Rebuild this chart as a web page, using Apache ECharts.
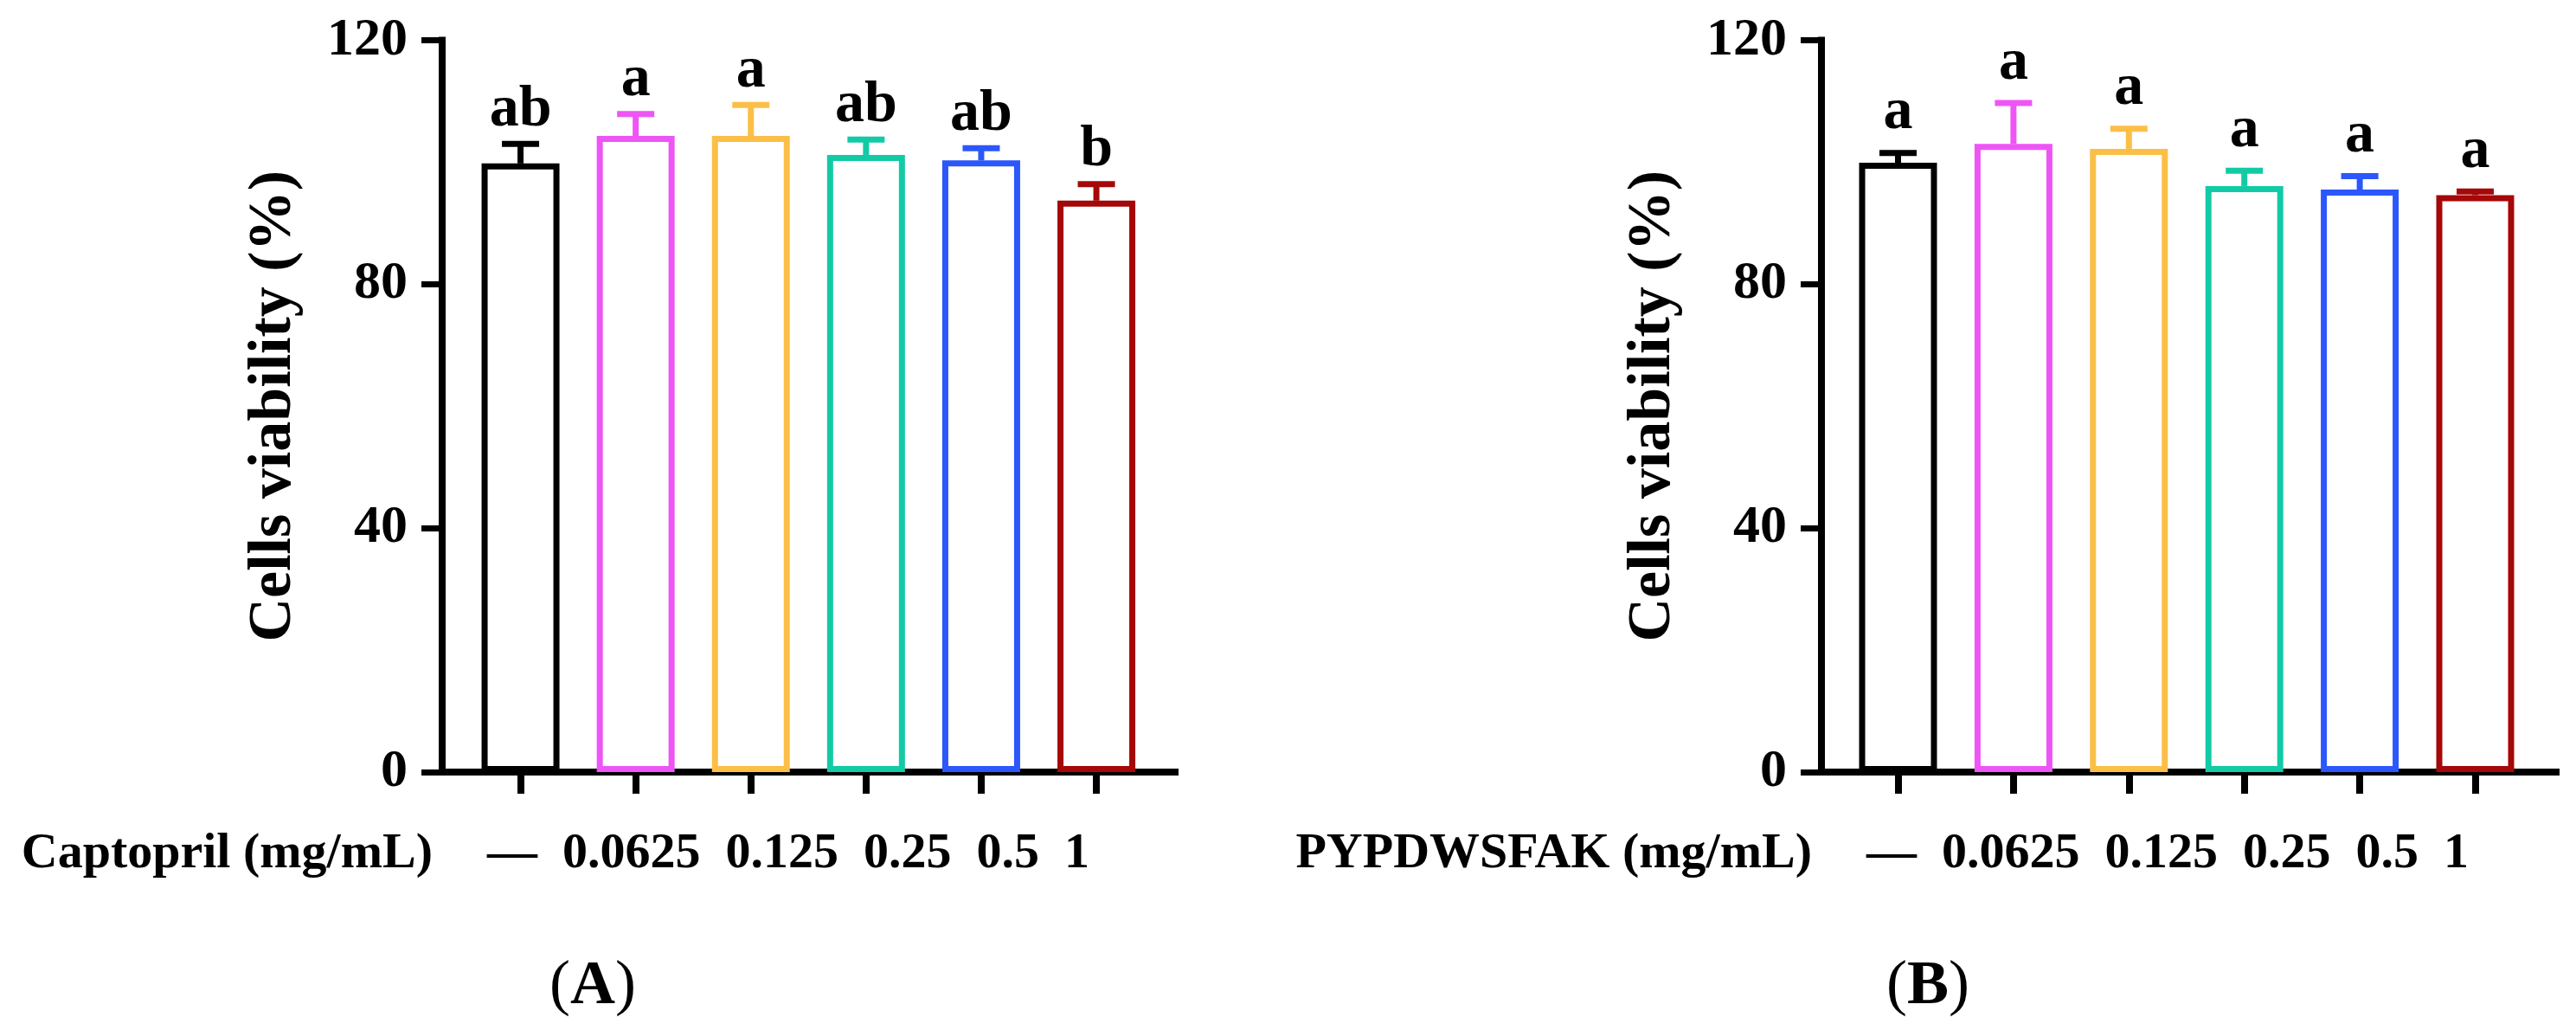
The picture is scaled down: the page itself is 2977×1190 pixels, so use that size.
<!DOCTYPE html>
<html>
<head>
<meta charset="utf-8">
<script src="https://cdn.jsdelivr.net/npm/echarts@6/dist/echarts.min.js"></script>
<style>
  html, body { margin: 0; padding: 0; background: #fff; }
  #chart { width: 2977px; height: 1190px; }
</style>
</head>
<body>
<div id="chart"></div>
<script>
// doses shown under both panels
const doses = ['—', '0.0625', '0.125', '0.25', '0.5', '1'];
const barColors = ['#000000', '#EE55F5', '#FBBF48', '#12CBA6', '#2B57FB', '#A50808'];
const yMax = 120;
const yStep = 40;

// panel A, captopril
const captoprilMean = [99.8, 104.3, 104.3, 101.2, 100.3, 93.7];
const captoprilSd = [3.2, 3.6, 5.1, 2.5, 2.0, 2.7];
const captoprilLetters = ['ab', 'a', 'a', 'ab', 'ab', 'b'];

// panel B, peptide
const peptideMean = [99.9, 103.0, 102.2, 96.1, 95.5, 94.6];
const peptideSd = [1.6, 6.7, 3.3, 2.5, 2.2, 0.6];
const peptideLetters = ['a', 'a', 'a', 'a', 'a', 'a'];

const serif = '"Liberation Serif", "Times New Roman", serif';

const panels = [
  { title: 'Captopril (mg/mL)', tag: 'A', mean: captoprilMean, sd: captoprilSd, letters: captoprilLetters,
    axisX: 511, axisW: 847, barX: 535, barW: 798.6, letterGap: 18, tagX: 685 },
  { title: 'PYPDWSFAK (mg/mL)', tag: 'B', mean: peptideMean, sd: peptideSd, letters: peptideLetters,
    axisX: 2105, axisW: 849, barX: 2126.8, barW: 800.4, letterGap: 25, tagX: 2228 }
];

const plotTop = 46.5;
const plotH = 845.5;

const grid = [];
const xAxis = [];
const yAxis = [];
const series = [];
const graphic = [];

panels.forEach(function (p, k) {
  const frame = 2 * k;
  const bars = 2 * k + 1;
  grid.push({ left: p.axisX, top: plotTop, width: p.axisW, height: plotH });
  grid.push({ left: p.barX, top: plotTop, width: p.barW, height: plotH });

  xAxis.push({
    gridIndex: frame, type: 'value', min: 0, max: 1,
    axisLine: { show: true, lineStyle: { color: '#000', width: 8, cap: 'square' } },
    axisTick: { show: false }, axisLabel: { show: false }, splitLine: { show: false }
  });
  yAxis.push({
    gridIndex: frame, type: 'value', min: 0, max: yMax, interval: yStep,
    axisLine: { show: true, lineStyle: { color: '#000', width: 8, cap: 'square' } },
    axisTick: { show: true, length: 24, lineStyle: { color: '#000', width: 7 } },
    axisLabel: { margin: 40, color: '#000', fontSize: 62, fontWeight: 'bold', fontFamily: serif },
    splitLine: { show: false },
    name: 'Cells viability (%)', nameLocation: 'middle', nameGap: 159,
    nameTextStyle: { color: '#000', fontSize: 70, fontWeight: 'bold', fontFamily: serif }
  });

  xAxis.push({
    gridIndex: bars, type: 'category', data: doses,
    axisLine: { show: false },
    axisTick: { show: true, alignWithLabel: true, length: 25, lineStyle: { color: '#000', width: 8 } },
    axisLabel: { show: false }
  });
  yAxis.push({ gridIndex: bars, type: 'value', min: 0, max: yMax, show: false });

  series.push({
    type: 'bar', xAxisIndex: bars, yAxisIndex: bars, barWidth: 90, z: 3,
    itemStyle: { color: '#fff', borderWidth: 7 },
    data: p.mean.map(function (v, i) {
      return { value: v, itemStyle: { borderColor: barColors[i] } };
    })
  });

  series.push({
    type: 'custom', xAxisIndex: bars, yAxisIndex: bars, z: 4,
    data: p.mean.map(function (v, i) { return [i, v, v + p.sd[i]]; }),
    renderItem: function (params, api) {
      const i = params.dataIndex;
      const base = api.coord([api.value(0), api.value(1)]);
      const cap = api.coord([api.value(0), api.value(2)]);
      const color = barColors[i];
      return {
        type: 'group',
        children: [
          { type: 'line', shape: { x1: base[0], y1: base[1], x2: cap[0], y2: cap[1] },
            style: { stroke: color, lineWidth: 7 } },
          { type: 'line', shape: { x1: cap[0] - 21.5, y1: cap[1], x2: cap[0] + 21.5, y2: cap[1] },
            style: { stroke: color, lineWidth: 7 } },
          { type: 'text', x: cap[0], y: cap[1] - p.letterGap + 13,
            style: { text: p.letters[i], fill: '#000', font: 'bold 68px ' + serif,
              align: 'center', verticalAlign: 'bottom', textAlign: 'center', textVerticalAlign: 'bottom' } }
        ]
      };
    }
  });

  graphic.push({
    type: 'text', x: p.axisX - 11, y: 987,
    style: { text: p.title, fill: '#000', font: 'bold 58px ' + serif, align: 'right', verticalAlign: 'middle' }
  });
  graphic.push({
    type: 'text', x: p.axisX + 52, y: 987,
    style: { text: doses.join('  '), fill: '#000', font: 'bold 58px ' + serif, align: 'left', verticalAlign: 'middle' }
  });
  graphic.push({
    type: 'text', x: p.tagX, y: 1140,
    style: {
      text: '{p|(}{b|' + p.tag + '}{p|)}', align: 'center', verticalAlign: 'middle',
      rich: {
        p: { fontSize: 72, fontFamily: serif, fill: '#000' },
        b: { fontSize: 72, fontFamily: serif, fontWeight: 'bold', fill: '#000' }
      }
    }
  });
});

const chart = echarts.init(document.getElementById('chart'), null, { renderer: 'canvas' });
chart.setOption({
  animation: false,
  backgroundColor: '#fff',
  grid: grid,
  xAxis: xAxis,
  yAxis: yAxis,
  series: series,
  graphic: graphic
});
</script>
</body>
</html>
